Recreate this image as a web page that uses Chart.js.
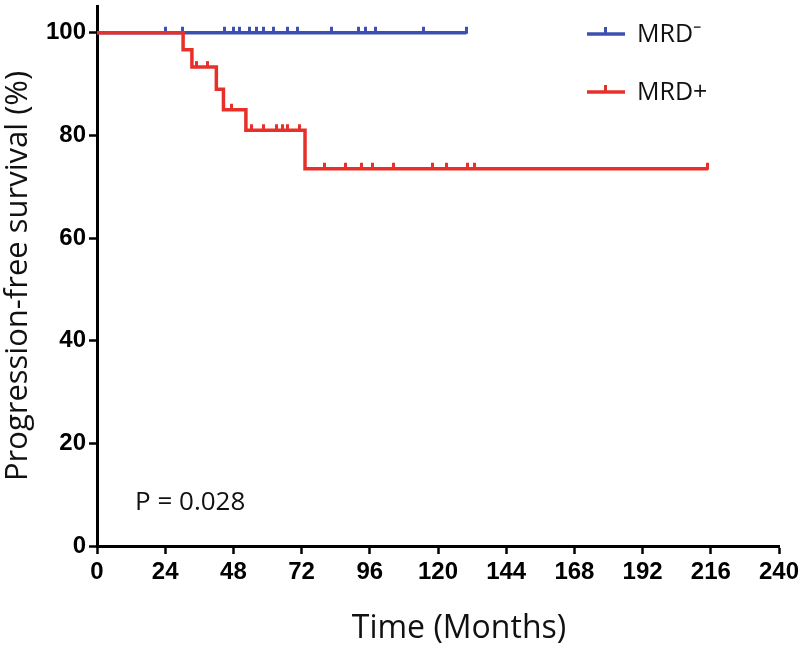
<!DOCTYPE html>
<html>
<head>
<meta charset="utf-8">
<script src="https://cdn.jsdelivr.net/npm/chart.js@4/dist/chart.umd.min.js"></script>
<style>
  html, body { margin: 0; padding: 0; background: #fff; }
  #wrap { width: 800px; height: 648px; }
</style>
</head>
<body>
<div id="wrap"><canvas id="graph" width="800" height="648"></canvas></div>
<script>
// Kaplan-Meier steps (months, % surviving)
const negTimes = [0, 130];
const negSurv = [100, 100];
const negCensor = [24, 30, 45, 48, 50, 53.5, 56, 58.5, 62, 67, 70.5, 82.5, 92, 94.5, 98, 115, 130];

const posTimes = [0, 30.3, 33.4, 42, 44.5, 52.4, 73.2, 215];
const posSurv = [100, 96.7, 93.3, 89, 85, 81, 73.5, 73.5];
const posCensor = [35, 39, 47.5, 54.5, 58.5, 63.3, 65.2, 67.2, 71.4, 80.2, 87.3, 93.2, 97.1, 104.2, 118.2, 123.1, 130.5, 133, 215];

const xTicks = [0, 24, 48, 72, 96, 120, 144, 168, 192, 216, 240];
const yTicks = [0, 20, 40, 60, 80, 100];

const blue = "#3d4fb0";
const red = "#e8302a";

//survival value at a given time, using the step function
function survAt(times, surv, t) {
    let v = surv[0];
    for (let i = 0; i < times.length; i++) {
        if (times[i] <= t) v = surv[i];
    }
    return v;
}

function toPoints(xs, ys) {
    return xs.map((x, i) => ({x: x, y: ys[i]}));
}

function censorPoints(list, times, surv) {
    return list.map(t => ({x: t, y: survAt(times, surv, t)}));
}

//small upward tick used for censored patients
function makeTick(color) {
    let c = document.createElement("canvas");
    c.width = 3;
    c.height = 14;
    let g = c.getContext("2d");
    g.fillStyle = color;
    g.fillRect(0, 1, 3, 7);
    return c;
}

const tickBlue = makeTick(blue);
const tickRed = makeTick(red);

//legend, x title and p value drawn on top
const extras = {
    id: "extras",
    afterDraw(chart) {
        const ctx = chart.ctx;
        const area = chart.chartArea;
        ctx.save();
        const items = [
            {label: "MRD\u207B", color: blue, y: area.top + 28},
            {label: "MRD+", color: red, y: area.top + 86}
        ];
        items.forEach(it => {
            const x0 = area.right - 192;
            ctx.strokeStyle = it.color;
            ctx.lineWidth = 3.5;
            ctx.beginPath();
            ctx.moveTo(x0, it.y);
            ctx.lineTo(x0 + 38, it.y);
            ctx.stroke();
            ctx.fillStyle = it.color;
            ctx.fillRect(x0 + 17, it.y - 7, 3, 7);
            ctx.fillStyle = "#111";
            ctx.font = "25px 'Open Sans'";
            ctx.textBaseline = "middle";
            ctx.textAlign = "left";
            ctx.fillText(it.label, x0 + 50, it.y + 1);
        });
        ctx.font = "26px 'Open Sans'";
        ctx.fillStyle = "#111";
        ctx.textAlign = "left";
        ctx.textBaseline = "middle";
        ctx.fillText("P = 0.028", area.left + 38, area.bottom - 43);

        ctx.font = "32px 'Open Sans'";
        ctx.textAlign = "center";
        ctx.fillText("Time (Months)", (area.left + area.right) / 2 + 21, area.bottom + 83);
        ctx.restore();
    }
};

const tickFont = {family: "'Liberation Sans', Arial, sans-serif", size: 24, weight: "bold"};

new Chart(document.getElementById("graph"), {
    type: "line",
    data: {
        datasets: [
            {
                label: "MRD-",
                data: toPoints(negTimes, negSurv),
                borderColor: blue,
                borderWidth: 3.5,
                stepped: true,
                pointRadius: 0,
                order: 2
            },
            {
                label: "MRD+",
                data: toPoints(posTimes, posSurv),
                borderColor: red,
                borderWidth: 3.5,
                stepped: true,
                pointRadius: 0,
                order: 1
            },
            {
                type: "scatter",
                label: "neg censored",
                data: censorPoints(negCensor, negTimes, negSurv),
                pointStyle: tickBlue,
                pointRadius: 5,
                order: 2
            },
            {
                type: "scatter",
                label: "pos censored",
                data: censorPoints(posCensor, posTimes, posSurv),
                pointStyle: tickRed,
                pointRadius: 5,
                order: 1
            }
        ]
    },
    options: {
        responsive: false,
        animation: false,
        layout: {padding: {top: 0, right: 21, left: 0, bottom: 0}},
        plugins: {
            legend: {display: false},
            tooltip: {enabled: false}
        },
        scales: {
            x: {
                type: "linear",
                min: 0,
                max: 240,
                afterBuildTicks: s => { s.ticks = xTicks.map(v => ({value: v})); },
                afterFit: s => { s.height = 102; s.paddingRight = 0; s.paddingLeft = 0; },
                border: {color: "#000", width: 3},
                grid: {drawOnChartArea: false, color: "#000", tickLength: 8, tickWidth: 2.5},
                ticks: {color: "#000", font: tickFont, padding: 4, maxRotation: 0}
            },
            y: {
                min: 0,
                max: 105.2,
                afterBuildTicks: s => { s.ticks = yTicks.map(v => ({value: v})); },
                afterFit: s => { s.width = 97; s.paddingTop = 0; },
                border: {color: "#000", width: 3},
                grid: {drawOnChartArea: false, color: "#000", tickLength: 8, tickWidth: 2.5},
                ticks: {color: "#000", font: tickFont, padding: 3},
                title: {
                    display: true,
                    text: "Progression-free survival (%)",
                    color: "#111",
                    font: {family: "'Open Sans'", size: 31},
                    padding: {top: 0, bottom: 2}
                }
            }
        }
    },
    plugins: [extras]
});
</script>
</body>
</html>
